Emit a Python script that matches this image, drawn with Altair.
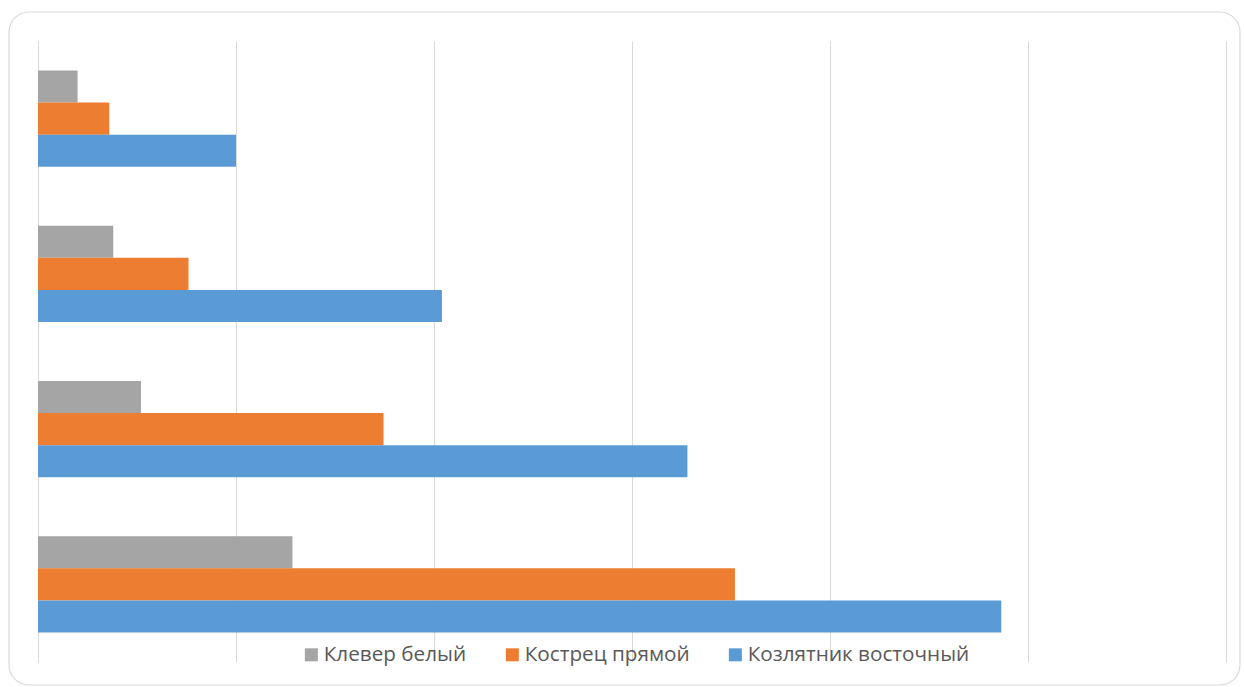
import altair as alt
import pandas as pd

categories = ["Группа 1", "Группа 2", "Группа 3", "Группа 4"]
series = ["Клевер белый", "Кострец прямой", "Козлятник восточный"]
klever = [2.0, 3.8, 5.2, 12.85]
kostrec = [3.6, 7.6, 17.45, 35.2]
kozlyatnik = [10.0, 20.4, 32.8, 48.65]
colors = ["#A5A5A5", "#ED7D31", "#5B9BD5"]
ticks = [0, 10, 20, 30, 40, 50, 60]

rows = []
for i, c in enumerate(categories):
    for s, vals in zip(series, [klever, kostrec, kozlyatnik]):
        rows.append({"cat": c, "series": s, "value": vals[i]})
df = pd.DataFrame(rows)

W, H = 1188, 621

bars = alt.Chart(df).mark_bar().encode(
    x=alt.X("value:Q",
            scale=alt.Scale(domain=[0, 60], nice=False, zero=True),
            axis=alt.Axis(values=ticks, labels=False, ticks=False, domain=False,
                          title=None, grid=True, gridColor="#d9d9d9", gridWidth=1)),
    y=alt.Y("cat:N", sort=categories,
            scale=alt.Scale(paddingInner=0.38, paddingOuter=0.19),
            axis=alt.Axis(labels=False, ticks=False, domain=False, title=None, grid=False)),
    yOffset=alt.YOffset("series:N", sort=series, scale=alt.Scale(paddingInner=0, paddingOuter=0)),
    color=alt.Color("series:N",
                    scale=alt.Scale(domain=series, range=colors),
                    legend=alt.Legend(title=None, orient="none", direction="horizontal",
                                      legendX=263, legendY=603,
                                      symbolType="square", symbolSize=169,
                                      symbolStrokeWidth=0,
                                      labelFontSize=20.7, labelFont="Open Sans",
                                      labelColor="#595959", columnPadding=35,
                                      labelOffset=2, labelLimit=500)),
)

frame = alt.Chart(alt.Data(values=[{}])).mark_rect(
    cornerRadius=20, fillOpacity=0, stroke="#d9d9d9", strokeWidth=1.2
).encode(
    x=alt.value(-29), x2=alt.value(1202), y=alt.value(-29), y2=alt.value(644)
)

chart = alt.layer(frame, bars).properties(
    width=W, height=H,
    autosize=alt.AutoSizeParams(type="none"),
    padding={"left": 38, "top": 41, "right": 18, "bottom": 25},
    background="white",
).configure_view(stroke=None)

chart.save("out.html", embed_options={"renderer": "svg", "actions": False})
